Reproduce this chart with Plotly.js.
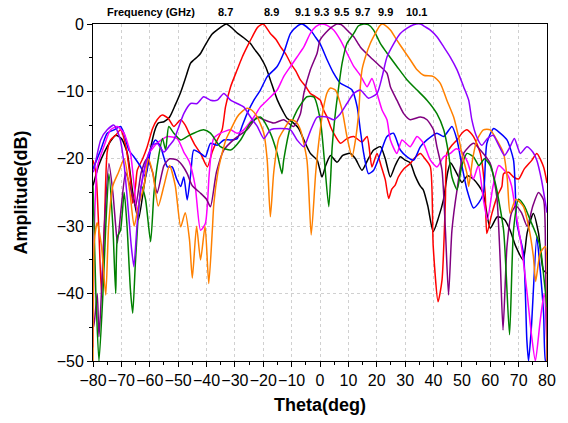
<!DOCTYPE html>
<html>
<head>
<meta charset="utf-8">
<script src="https://cdn.plot.ly/plotly-3.0.1.min.js"></script>
<style>html,body{margin:0;padding:0;background:#fff;}#chart{width:568px;height:423px;}</style>
</head>
<body>
<div id="chart"></div>
<script>
// Frequencies (GHz) and label positions (theta of each main beam)
const freqLabels = ["8.7","8.9","9.1","9.3","9.5","9.7","9.9","10.1"];
const labelTheta = [-33.3,-17.2,-6.2,0.7,7.4,14.9,23.0,34.1];
const colors = ["#000000","#FF0000","#0000FF","#FF00FF","#800080","#008000","#FF8000","#8F00FF"];

// [theta(deg), amplitude(dB)]
const f87 = [[-80,-24],[-78,-21],[-76,-19],[-74,-17.5],[-72,-16.5],[-70,-17],[-68,-19],[-66,-25],[-64,-29],[-62,-24],[-60,-19],[-58,-15.5],[-57,-14.7],[-55,-14.5],[-53,-13.8],[-51,-12],[-49,-10],[-47,-7.5],[-45.6,-5.8],[-43,-4.8],[-42,-4.3],[-40,-2.8],[-38,-1.5],[-36,-0.8],[-34,-0.2],[-33,0],[-31,-0.6],[-29,-1.4],[-27,-2],[-24.5,-2.9],[-23,-3.8],[-21,-4.9],[-19,-6.5],[-17.5,-8.3],[-15,-11.3],[-13,-13],[-11.6,-14],[-9.3,-14.7],[-7.5,-15.5],[-5.7,-17.2],[-3.4,-19.2],[-1,-20.2],[0.7,-22.7],[2,-21],[3.7,-19.5],[6,-20.5],[8,-19.5],[10.7,-19.2],[12.5,-20],[14.8,-21.7],[17,-20],[18.9,-18.7],[21.3,-18.2],[23,-20],[24.8,-22.7],[26.5,-21],[28.3,-19.7],[30,-20.2],[31.8,-20.6],[33.5,-22.5],[35.4,-24.1],[36.4,-24.6],[38,-27],[39.9,-30.8],[41.7,-28.8],[43.5,-26.1],[45,-22],[46,-20.6],[48,-22],[50,-23.5],[52,-22.5],[54,-23],[56,-24],[57.5,-25.1],[60,-30.3],[62.5,-28.6],[65,-29],[67,-30.6],[69,-33],[71.6,-35],[73,-31],[75.2,-28.1],[77,-31],[78.7,-36.5],[80,-37]];
const f89 = [[-80,-20.2],[-79,-22],[-78,-30],[-77,-40],[-76,-30],[-75,-19],[-73.8,-17.2],[-72,-16.5],[-70.3,-15.7],[-68.5,-18],[-66.8,-23.1],[-66,-26.6],[-65,-24],[-64.4,-21.7],[-62.5,-20],[-60.9,-18.2],[-59,-15.5],[-57.4,-14.2],[-55.6,-13.5],[-53.5,-14],[-51.5,-15.2],[-49.1,-14.2],[-47.5,-15],[-45.6,-16.7],[-44,-18],[-42.1,-19.2],[-39.7,-21.2],[-38,-19],[-36.2,-17.2],[-34.5,-15.7],[-33.3,-12.3],[-31.5,-9.3],[-29.2,-6.8],[-27.5,-5],[-25.7,-3.4],[-24,-2],[-22,-0.5],[-20,0],[-17.5,-1.4],[-15.5,-2.3],[-13.9,-3.4],[-12,-4.5],[-10.4,-5.8],[-8.5,-7],[-6.9,-8.3],[-5,-9.3],[-3.4,-10.3],[-1.5,-10.8],[0.1,-11.3],[1.3,-12.8],[2.5,-13.8],[3.7,-15.2],[4.8,-16.2],[7.2,-17.7],[9.5,-17],[11.9,-16.7],[14.8,-17.5],[16.6,-16.7],[18.3,-21.2],[20.1,-19.2],[21.5,-21],[23,-23.1],[24.2,-25.9],[25.3,-24.5],[26.5,-23.9],[27.6,-22.7],[29.5,-21.5],[31.8,-20.7],[33.5,-19.8],[35.4,-19.2],[37,-20],[38.9,-21.2],[39.9,-33],[41.6,-41.2],[43,-38],[44.2,-26.1],[44.7,-19.2],[46.5,-18],[48.3,-17.2],[50,-16.2],[51.8,-15.7],[54.1,-16.7],[56.5,-19.2],[58.2,-25.1],[58.8,-31.1],[60.6,-28.1],[62.5,-25.5],[64.1,-24.1],[64.7,-22.2],[66.5,-22],[68.2,-22.7],[70,-23],[72,-21.5],[74.7,-20.2],[76.4,-19.2],[78.8,-21.2],[80,-23.6]];
const f91 = [[-80,-21.5],[-79.7,-21.2],[-77.3,-18.7],[-75,-16.2],[-72.6,-15.7],[-70.3,-15.2],[-69.1,-16.2],[-67.4,-18.7],[-65.6,-19.7],[-63.2,-21.2],[-61.5,-22.7],[-59.7,-18.7],[-58,-17.2],[-56.2,-18.2],[-53.8,-21.2],[-52.1,-21.2],[-50.5,-23],[-49.1,-24.1],[-48,-22.7],[-46.8,-26.1],[-45.5,-22],[-44.5,-18.7],[-42.1,-19.2],[-40.4,-19.7],[-38.6,-17.7],[-36.2,-18],[-33.9,-17.2],[-31.5,-17.2],[-29.2,-17],[-27.5,-15.2],[-25.7,-13.3],[-23.3,-11.3],[-21,-9.8],[-18.6,-7.8],[-15.1,-6.3],[-12.8,-4.3],[-10.4,-1.4],[-8,-0.3],[-6.3,0],[-3.4,-0.9],[-1.5,-2],[0.1,-3],[2.5,-5.3],[4.8,-7.3],[7.2,-8.8],[9.5,-9.3],[11.3,-9.8],[13.1,-12.3],[14.2,-15.7],[15.4,-19.2],[17.1,-22.2],[18.9,-21.7],[21.3,-19.2],[23.6,-16.7],[25.9,-16.2],[28.3,-18.7],[30.7,-19.7],[33,-20.2],[35.4,-18.2],[37.7,-17.2],[41.2,-16.2],[43.6,-16.7],[46.5,-15.2],[48.3,-17.2],[50,-21],[51.8,-24.6],[54.1,-27.3],[56,-26.5],[57.6,-25.1],[58.8,-17.7],[61.2,-15.5],[63.5,-16.2],[65.9,-17.2],[68.2,-20.2],[69.4,-29.6],[71.7,-34],[72.9,-46.9],[73.5,-50],[74.5,-45],[76.4,-31.6],[77.5,-36],[78.8,-43],[79.5,-50],[80,-50]];
const f93 = [[-80,-48],[-79.5,-30],[-78.5,-21.2],[-76.2,-18.2],[-73.8,-15.7],[-71.4,-15.2],[-69.1,-16.2],[-66.8,-19.2],[-65.5,-24],[-64.4,-28.1],[-63,-24],[-61.5,-21],[-60.3,-19.2],[-57.4,-17.7],[-53.8,-16.7],[-50.3,-17],[-48,-19],[-46,-20.5],[-44,-24],[-42.1,-30.6],[-40.4,-29.6],[-39,-22],[-37.5,-17],[-35.1,-16.2],[-31.5,-15.7],[-29.2,-16.2],[-26.9,-15.7],[-23.3,-13.8],[-21,-12.3],[-18.6,-11.3],[-15.1,-9.8],[-12.8,-7.8],[-10.4,-6.3],[-8.1,-4.9],[-5.7,-3.4],[-3.4,-1.4],[-1.5,-0.4],[0.5,0],[2.5,-0.2],[4.8,-0.9],[7.2,-2.4],[9.5,-4.3],[11.9,-6.3],[14.2,-7.6],[16.6,-9.3],[18.3,-8.1],[20.1,-10.3],[21.9,-12.8],[23.6,-14.2],[24.8,-17.2],[27.1,-19.2],[28.9,-17.2],[31.8,-18.2],[34.2,-16.7],[36.5,-17.7],[38.9,-20.2],[41.2,-21.2],[43.6,-19.7],[45.9,-19.2],[48,-18.5],[50,-19],[52,-20.5],[54,-23],[55.8,-21],[57.6,-26.1],[59,-29],[61,-24],[63,-21],[65.9,-22.2],[67.5,-24],[69,-28],[71,-33],[73,-40],[74.5,-46],[75.9,-50],[77.6,-44],[79,-40],[80,-48]];
const f95 = [[-80,-44],[-79.7,-44.9],[-78.5,-40],[-77.9,-46.4],[-77.3,-42.4],[-76,-30],[-74.4,-20.7],[-73,-25],[-72,-30],[-71.4,-32.5],[-70,-27],[-68.5,-22],[-67,-24],[-65,-27],[-63,-22],[-61,-20],[-59,-22],[-57.4,-25.1],[-55,-21],[-53,-20],[-50.3,-20.2],[-48.5,-21],[-46.8,-22.2],[-45,-24],[-42.1,-25.1],[-40,-26],[-38.6,-27.1],[-36.5,-22],[-33.9,-18.7],[-30,-17],[-25.7,-15.7],[-22.1,-13.8],[-19.8,-14.2],[-16.3,-14.7],[-12.8,-14.2],[-9.3,-15.2],[-6.9,-13.3],[-5.7,-10.3],[-3.4,-6.8],[-1,-4.3],[0,-2.4],[2,-1.3],[4,-0.5],[6,0],[7.5,-0.1],[9.5,-0.9],[11.9,-1.9],[14.2,-3.4],[17.7,-4.9],[21.3,-6.3],[23.6,-7.3],[24.8,-9.3],[27.1,-11.3],[29.5,-13.3],[31.8,-14.2],[35.4,-13.8],[37.7,-14.2],[40,-15.7],[41.2,-18.2],[43,-21.7],[44.2,-30.6],[45.3,-40.2],[46.5,-30.6],[48.3,-24.6],[50.6,-19.2],[54.1,-17.7],[56.5,-18.7],[60,-20.7],[62.3,-25.6],[63.5,-35],[64.5,-45.4],[65.9,-33],[67.5,-28],[69,-27],[71,-28],[73,-30],[75,-27],[77,-25],[78.8,-26.1],[79.5,-35],[80,-50]];
const f97 = [[-80,-24],[-79,-40],[-77.9,-50],[-76.5,-40],[-75.5,-30],[-74.4,-22.2],[-73,-30],[-72,-40],[-71.4,-31.6],[-70.3,-30.6],[-69,-25],[-68,-30],[-66.8,-39.5],[-66,-42.9],[-65,-35],[-63,-24],[-61.5,-26],[-59.7,-32.3],[-58.5,-25],[-57,-20],[-55.5,-17],[-54.4,-18.7],[-53.3,-15.2],[-51.5,-16.2],[-49.1,-17.2],[-46.8,-16.7],[-44.5,-16.2],[-41,-15.7],[-38.6,-16.2],[-35.1,-18.2],[-31.5,-18.7],[-28,-17.2],[-24.5,-14.7],[-21,-13.8],[-17.5,-16.2],[-15.1,-19.2],[-13.4,-22.2],[-12.8,-20.2],[-10.4,-15.2],[-8.1,-12.8],[-4.6,-10.8],[-2.2,-10.8],[0.1,-14.2],[1.5,-20],[3.1,-27.1],[4.3,-18.2],[5.4,-13.3],[6.6,-9.3],[7.8,-5.8],[9.5,-2.9],[11.9,-1.4],[13.5,-0.3],[15.4,0],[17,-0.1],[18.9,-0.9],[21.3,-2.9],[23.6,-4.3],[27.1,-6.3],[30.7,-8.3],[34.2,-9.8],[37.7,-11.3],[41.2,-13.3],[43.6,-15.7],[45.3,-19.2],[46.5,-22.7],[48.3,-24.6],[50,-21],[51.8,-19.2],[54.1,-19.7],[56,-21],[58,-20],[60,-21],[62,-24],[64.7,-30.6],[66.8,-46.1],[68.2,-30.6],[70,-26],[72,-27],[74,-29],[76,-31],[77.6,-33],[79,-38],[80,-42]];
const f99 = [[-80,-50],[-79.5,-32],[-78.5,-29.5],[-77,-33],[-75.5,-40.2],[-74.5,-30],[-73,-24],[-71,-22],[-69,-20],[-67,-25],[-65.5,-30],[-64,-27],[-62,-24],[-60.5,-20],[-59,-22],[-57,-27],[-55,-24],[-53,-21],[-51,-24],[-49.1,-30.1],[-47.5,-28],[-46,-32],[-45,-37.7],[-43.5,-30],[-42.1,-35],[-40.5,-30],[-39.2,-38.5],[-38,-31],[-37.4,-26.6],[-36,-22],[-35.1,-20.2],[-33,-17],[-31.5,-15.7],[-29.2,-13.8],[-27.5,-13],[-25.7,-12.5],[-24,-12.8],[-22.1,-13.8],[-19.8,-16.2],[-18.6,-20.2],[-17.5,-28.6],[-16.3,-22],[-14.5,-17],[-12.8,-15.7],[-10.4,-14.2],[-8.5,-14.5],[-6.9,-15.7],[-4.6,-20.2],[-3.1,-31.3],[-1.5,-22],[0,-16],[1.3,-12.3],[2.5,-10.2],[3.7,-9.5],[5.4,-9.8],[7.8,-12.8],[9.5,-16.7],[11.3,-19.7],[12.5,-17.2],[13.6,-13.3],[14.2,-9.3],[14.8,-6.8],[16,-4.9],[17.7,-2.9],[19.5,-1.4],[21,-0.3],[21.9,0],[23,-0.2],[24.8,-0.9],[27.1,-2.4],[29.5,-3.9],[31.8,-5.3],[34.2,-6.8],[36.5,-7.6],[40,-7.8],[42.4,-8.8],[44.7,-11.3],[47.1,-13.8],[48.8,-16.7],[50,-19.2],[51.8,-22.2],[52.4,-24.1],[53.8,-20],[55.3,-17.2],[57.6,-15.7],[60,-15.7],[62.3,-17.2],[64.7,-19.2],[66,-23],[67,-28.1],[69,-26],[71.7,-27.1],[73.5,-30],[75.2,-34.5],[76,-38.2],[77.6,-34],[79.4,-33],[80,-50]];
const f101 = [[-80,-22],[-79.7,-21.7],[-77.3,-17.2],[-75,-15.7],[-72.6,-15],[-70.5,-17],[-69,-21],[-67.5,-28],[-66.5,-33],[-65.6,-36],[-64.5,-30],[-63,-24],[-61,-20],[-59,-18],[-57.4,-17.7],[-55,-19],[-53,-18],[-51.5,-17.2],[-49.7,-15.2],[-48,-13.3],[-45.6,-11.8],[-43.3,-11.8],[-41,-10.8],[-38.6,-11.3],[-36.2,-11.3],[-33.9,-10.3],[-31.5,-11.3],[-29.2,-11.8],[-26.9,-12.3],[-24.5,-13.8],[-22.1,-15.2],[-19.8,-17],[-17.5,-15.7],[-14,-15.5],[-10.4,-15.7],[-8.1,-17.2],[-5.7,-18.2],[-3.5,-16],[-1,-13.8],[2.5,-13.8],[4.8,-14.2],[7.2,-13.3],[9.5,-11.8],[11.9,-10.3],[14.2,-9.8],[17.1,-11],[20.1,-10.3],[21.9,-7.8],[23.6,-4.9],[26,-2.9],[28.3,-1.4],[30.7,-0.6],[33,-0.1],[35.4,0],[37,-0.4],[38.9,-0.9],[41.2,-1.9],[43.6,-3.4],[45.9,-4.9],[48.3,-6.8],[50.6,-9.3],[52.4,-11.3],[53.5,-14.2],[55,-16.5],[57,-18],[59,-17],[61,-16.5],[63,-18],[65,-19.5],[67,-18.2],[68.5,-17],[70.6,-19.2],[72.9,-18.2],[75,-19],[76.4,-20.2],[78,-23],[80,-28]];

const series = [f87,f89,f91,f93,f95,f97,f99,f101];
const FONT = "Liberation Sans, Arial, sans-serif";

const traces = series.map((s,i)=>({
  type:'scatter', mode:'lines',
  x: s.map(p=>p[0]), y: s.map(p=>p[1]),
  line:{color:colors[i], width:1.5, shape:'spline', smoothing:0.6},
  name: freqLabels[i], showlegend:false, hoverinfo:'skip'
}));

const annotations = [{
  xref:'x', yref:'paper', x:-59.5, y:1.036, text:'<b>Frequency (GHz)</b>',
  showarrow:false, font:{family:FONT, size:11, color:'#000'}, xanchor:'center', yanchor:'middle'
}].concat(freqLabels.map((t,i)=>({
  xref:'x', yref:'paper', x:labelTheta[i], y:1.036, text:'<b>'+t+'</b>',
  showarrow:false, font:{family:FONT, size:11, color:'#000'}, xanchor:'center', yanchor:'middle'
})));

const axisCommon = {
  showline:true, linecolor:'#000', linewidth:1, mirror:true,
  ticks:'outside', ticklen:5, tickwidth:1, tickcolor:'#000',
  showgrid:true, gridcolor:'#d0d0d0', griddash:'dot', gridwidth:1,
  zeroline:false, tickangle:0, tickfont:{family:FONT, size:16, color:'#000'},
  minor:{ticks:'outside', ticklen:3, tickwidth:1, tickcolor:'#000', showgrid:false}
};

const layout = {
  width:568, height:423,
  margin:{l:93, r:21, t:24, b:62, pad:0},
  paper_bgcolor:'#fff', plot_bgcolor:'#fff',
  font:{family:FONT, color:'#000'},
  xaxis: Object.assign({}, axisCommon, {
    range:[-80,80], tick0:-80, dtick:10,
    minor:Object.assign({}, axisCommon.minor, {dtick:5}),
    title:{text:'<b>Theta(deg)</b>', font:{family:FONT, size:18, color:'#000'}, standoff:10}
  }),
  yaxis: Object.assign({}, axisCommon, {
    range:[-50,0], tick0:-50, dtick:10,
    minor:Object.assign({}, axisCommon.minor, {dtick:5}),
    title:{text:'<b>Amplitude(dB)</b>', font:{family:FONT, size:18, color:'#000'}, standoff:24}
  }),
  annotations: annotations
};

Plotly.newPlot('chart', traces, layout, {staticPlot:true, displayModeBar:false});
</script>
</body>
</html>
